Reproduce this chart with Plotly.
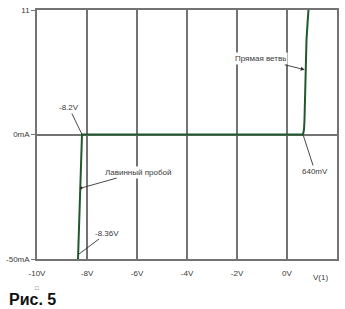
import plotly.graph_objects as go

# I-V curve of a zener diode (V in volts, I in mA)
volts = [-8.36, -8.33, -8.30, -8.27, -8.24, -8.22, -8.20, -6.0, -4.0, -2.0, 0.0, 0.50, 0.62, 0.65, 0.68, 0.70, 0.73, 0.78, 0.83, 0.86]
current_ma = [-50, -42, -33, -24, -14, -6, 0, 0, 0, 0, 0, 0, 0, 0.5, 2, 6, 24, 38, 46, 50]

x_ticks = [-10, -8, -6, -4, -2, 0]
x_labels = ["-10V", "-8V", "-6V", "-4V", "-2V", "0V"]
y_ticks = [-50, 0, 50]
y_labels = ["-50mA", "0mA", "11"]

GRID = "#737373"
TXT = "#3a3a3a"

fig = go.Figure()
fig.add_trace(go.Scatter(x=volts, y=current_ma, mode="lines",
                         line=dict(color="#1f5a2c", width=2), showlegend=False))

fig.update_layout(
    width=345, height=309,
    margin=dict(l=33, r=6, t=10, b=50),
    paper_bgcolor="white", plot_bgcolor="white",
    font=dict(family="Liberation Sans, Arial", size=8, color=TXT),
    xaxis=dict(range=[-10, 2], tickvals=x_ticks, ticktext=x_labels,
               showgrid=True, gridcolor=GRID, gridwidth=1.5,
               showline=True, linecolor=GRID, linewidth=1.6, mirror=True,
               zeroline=False, ticks="", ticklabelstandoff=6,
               tickfont=dict(size=8, color=TXT)),
    yaxis=dict(range=[-50, 50], tickvals=y_ticks, ticktext=y_labels,
               showgrid=True, gridcolor=GRID, gridwidth=1.5,
               showline=True, linecolor=GRID, linewidth=1.6, mirror=True,
               zeroline=False, ticks="outside", ticklen=4, tickcolor=GRID,
               tickfont=dict(size=8, color=TXT)),
)

ann_font = dict(family="Liberation Sans, Arial", size=8, color=TXT)
annots = [
    dict(text="-8.2V", x=-8.2, y=0, ax=-13, ay=-27, arrowhead=0),
    dict(text="Лавинный пробой", x=-8.235, y=-21.5, ax=57, ay=-16, arrowhead=6, arrowsize=0.8),
    dict(text="-8.36V", x=-8.32, y=-48, ax=28, ay=-21, arrowhead=0),
    dict(text="Прямая ветвь", x=0.71, y=26, ax=-44, ay=-11, arrowhead=2, arrowsize=0.9),
    dict(text="640mV", x=0.64, y=0, ax=12, ay=37, arrowhead=0),
]
for a in annots:
    fig.add_annotation(xref="x", yref="y", showarrow=True, arrowcolor="#333333",
                       arrowwidth=0.9, bgcolor="white", font=ann_font, **a)

fig.add_annotation(text="V(1)", xref="paper", yref="paper", x=0.975, y=-0.05,
                   showarrow=False, yanchor="top", font=ann_font)
fig.add_annotation(text="□", xref="paper", yref="paper", x=0.0, y=-0.095,
                   showarrow=False, yanchor="top", xanchor="center",
                   font=dict(size=6, color=TXT))
fig.add_annotation(text="<b>Рис. 5</b>", xref="paper", yref="paper", x=-0.1, y=-0.12,
                   showarrow=False, yanchor="top", xanchor="left",
                   font=dict(family="Liberation Sans, Arial", size=16, color="#111111"))

fig.write_html("out.html")
